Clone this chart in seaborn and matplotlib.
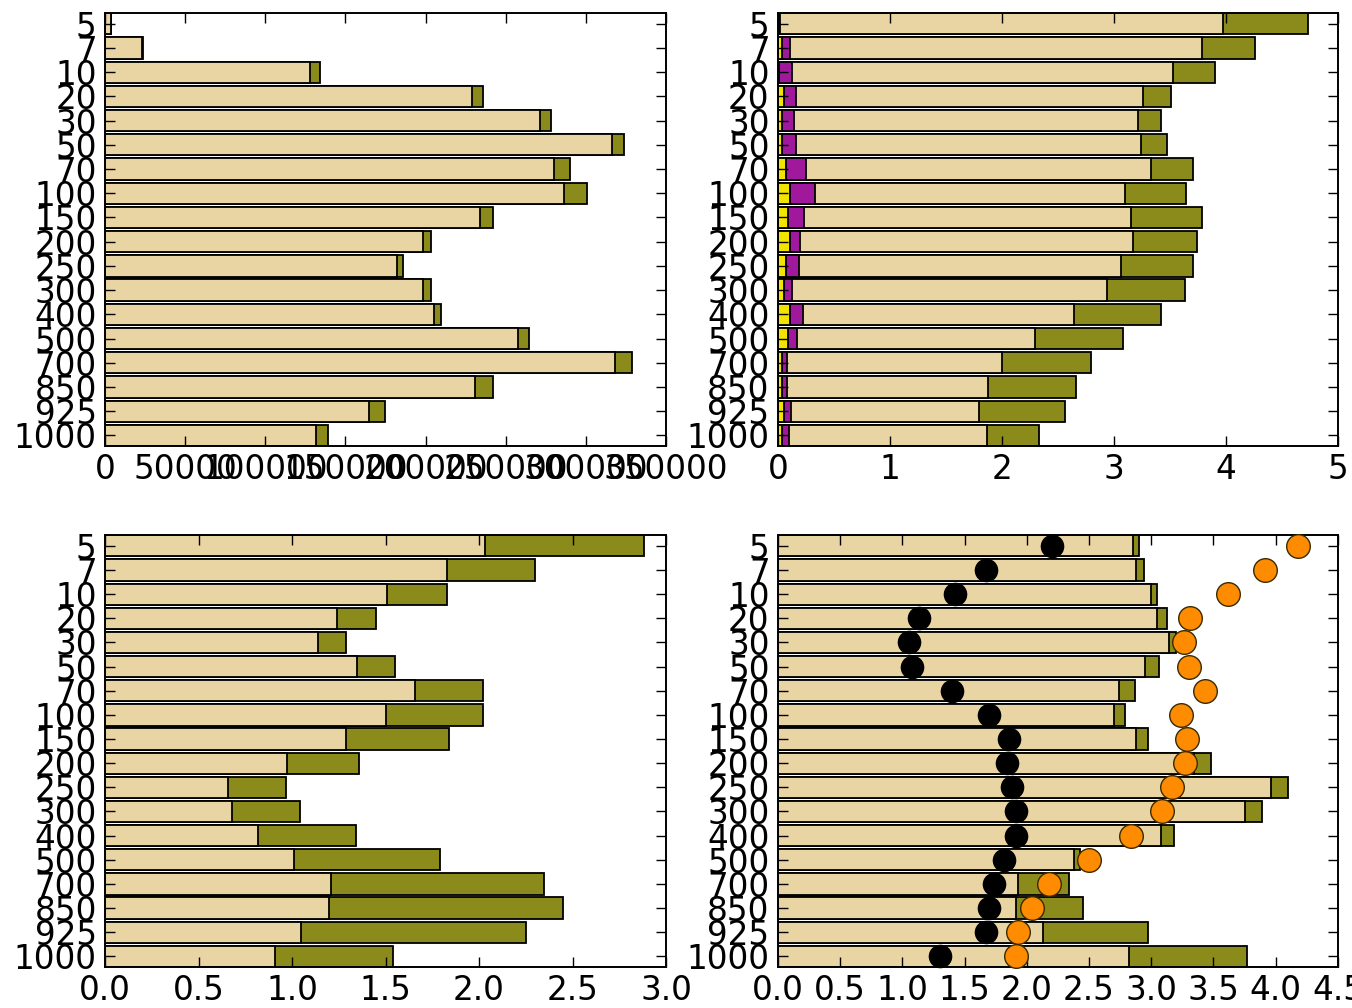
import numpy as np
import matplotlib
matplotlib.use("Agg")
import matplotlib.pyplot as plt
import seaborn as sns

# Pressure levels (hPa), top of the atmosphere first
levels = ["5", "7", "10", "20", "30", "50", "70", "100", "150", "200",
          "250", "300", "400", "500", "700", "850", "925", "1000"]

# Panel 1: absolute counts
counts_main = [3500, 22900, 127800, 229200, 271300, 316200, 280000, 286200, 234000,
               198100, 182200, 198100, 205400, 257800, 318400, 230800, 164900, 131400]
counts_extra = [300, 1000, 6200, 6700, 6800, 7600, 10300, 14300, 7900,
                5400, 4000, 5400, 4300, 6500, 10500, 11100, 10000, 7800]

# Panel 2: four stacked components
comp_a = [0.005, 0.035, 0.005, 0.05, 0.04, 0.04, 0.07, 0.107, 0.09,
          0.107, 0.07, 0.054, 0.107, 0.09, 0.036, 0.036, 0.054, 0.036]
comp_b = [0.015, 0.072, 0.123, 0.11, 0.103, 0.12, 0.18, 0.22, 0.145,
          0.093, 0.115, 0.074, 0.113, 0.077, 0.041, 0.041, 0.059, 0.059]
comp_c = [3.95, 3.68, 3.40, 3.10, 3.07, 3.08, 3.08, 2.77, 2.92,
          2.97, 2.875, 2.81, 2.42, 2.13, 1.92, 1.80, 1.68, 1.77]
comp_d = [0.76, 0.47, 0.37, 0.25, 0.21, 0.23, 0.38, 0.55, 0.63,
          0.57, 0.65, 0.70, 0.78, 0.78, 0.80, 0.78, 0.77, 0.47]

# Panel 3: two stacked components
p3_main = [2.03, 1.83, 1.51, 1.24, 1.14, 1.35, 1.66, 1.50, 1.29,
           0.975, 0.66, 0.68, 0.82, 1.01, 1.21, 1.20, 1.05, 0.91]
p3_extra = [0.85, 0.47, 0.32, 0.21, 0.15, 0.20, 0.36, 0.52, 0.55,
            0.385, 0.31, 0.36, 0.52, 0.78, 1.14, 1.25, 1.20, 0.63]

# Panel 4: two stacked components plus two point series
p4_main = [2.85, 2.88, 3.00, 3.05, 3.14, 2.95, 2.74, 2.70, 2.88,
           3.34, 3.96, 3.75, 3.08, 2.38, 1.93, 1.91, 2.13, 2.82]
p4_extra = [0.055, 0.06, 0.05, 0.08, 0.06, 0.11, 0.13, 0.09, 0.09,
            0.14, 0.14, 0.14, 0.10, 0.05, 0.41, 0.54, 0.84, 0.95]
p4_black = [2.20, 1.67, 1.42, 1.13, 1.05, 1.08, 1.40, 1.70, 1.86,
            1.84, 1.88, 1.91, 1.91, 1.82, 1.74, 1.70, 1.67, 1.30]
p4_orange = [4.18, 3.91, 3.62, 3.31, 3.26, 3.30, 3.43, 3.24, 3.29,
             3.27, 3.17, 3.09, 2.84, 2.50, 2.18, 2.04, 1.93, 1.91]

YELLOW = "#f2e400"
PURPLE = "#a0189c"
TAN = "#e9d4a3"
OLIVE = "#8a8b1b"

BAR_W = 0.88

plt.rcParams.update({
    "font.family": ["DejaVu Sans"],
    "font.size": 23.5,
    "axes.linewidth": 1.4,
    "xtick.direction": "in",
    "ytick.direction": "in",
    "xtick.top": True,
    "ytick.right": True,
    "xtick.major.size": 7.5,
    "ytick.major.size": 7.5,
    "xtick.major.width": 1.0,
    "ytick.major.width": 1.0,
    "xtick.major.pad": 5,
    "ytick.major.pad": 6,
    "axes.facecolor": "white",
    "figure.facecolor": "white",
})

fig = plt.figure(figsize=(13.52, 10.08), dpi=100)
L1, R1, L2, R2 = 0.0777, 0.4926, 0.5754, 0.9896
T1, B1, T2, B2 = 0.987, 0.5575, 0.469, 0.0407
ax1 = fig.add_axes([L1, B1, R1 - L1, T1 - B1])
ax2 = fig.add_axes([L2, B1, R2 - L2, T1 - B1])
ax3 = fig.add_axes([L1, B2, R1 - L1, T2 - B2])
ax4 = fig.add_axes([L2, B2, R2 - L2, T2 - B2])


def stacked(ax, segments, colors):
    """Draw stacked horizontal bars by layering cumulative totals, outermost first."""
    cum = np.cumsum(np.array(segments, dtype=float), axis=0)
    for vals, col in reversed(list(zip(cum, colors))):
        sns.barplot(x=vals, y=levels, order=levels, orient="h", color=col,
                    saturation=1, width=BAR_W, edgecolor="black", linewidth=1.3,
                    errorbar=None, ax=ax)


def finish(ax, xmax, xticks, fmt):
    ax.set_xlim(0, xmax)
    ax.set_ylim(len(levels) - 1 + BAR_W / 2, -BAR_W / 2)
    ax.set_xticks(xticks)
    ax.set_xticklabels([fmt(t) for t in xticks])
    ax.set_yticks(range(len(levels)))
    ax.set_yticklabels(levels)
    ax.set_xlabel("")
    ax.set_ylabel("")
    ax.grid(False)
    for s in ax.spines.values():
        s.set_visible(True)
        s.set_linewidth(1.4)
        s.set_color("black")
    ax.tick_params(which="both", direction="in", top=True, right=True,
                   bottom=True, left=True, length=7.5, width=1.0, labelsize=23.5)


stacked(ax1, [counts_main, counts_extra], [TAN, OLIVE])
finish(ax1, 350000, np.arange(0, 350001, 50000), lambda t: f"{int(t)}")

stacked(ax2, [comp_a, comp_b, comp_c, comp_d], [YELLOW, PURPLE, TAN, OLIVE])
finish(ax2, 5, np.arange(0, 6, 1), lambda t: f"{int(t)}")

stacked(ax3, [p3_main, p3_extra], [TAN, OLIVE])
finish(ax3, 3.0, np.arange(0, 3.01, 0.5), lambda t: f"{t:.1f}")

stacked(ax4, [p4_main, p4_extra], [TAN, OLIVE])
sns.stripplot(x=p4_black, y=levels, order=levels, orient="h", jitter=False,
              color="black", size=17, linewidth=0, zorder=4, ax=ax4)
sns.stripplot(x=p4_orange, y=levels, order=levels, orient="h", jitter=False,
              color="#ff8c00", size=17, edgecolor="#3a2a00", linewidth=1.0,
              zorder=4, ax=ax4)
finish(ax4, 4.5, np.arange(0, 4.51, 0.5), lambda t: f"{t:.1f}")
for c in ax4.collections:
    c.set_clip_on(False)

fig.savefig("out.png", dpi=100, facecolor="white")
